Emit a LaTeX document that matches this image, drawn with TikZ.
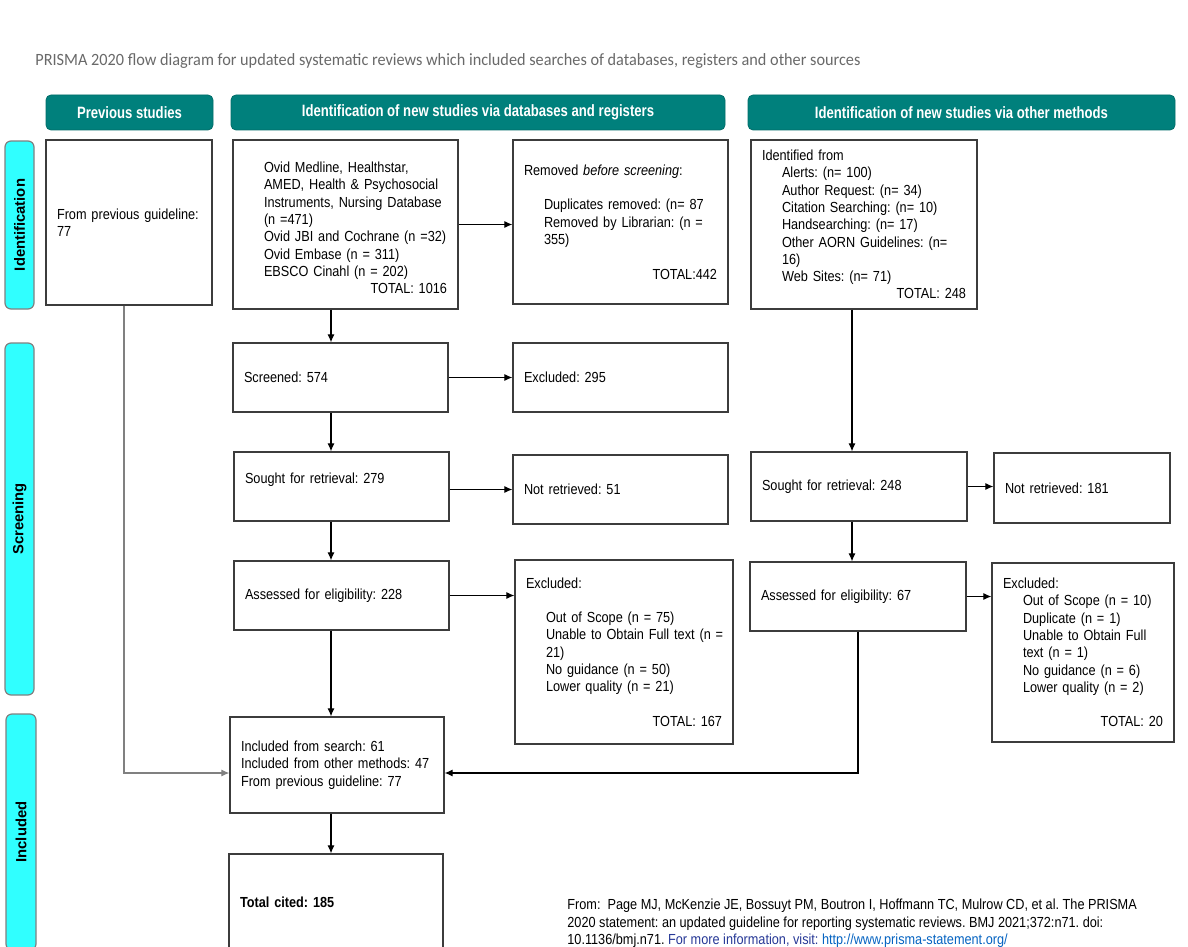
\documentclass[tikz,border=0pt]{standalone}
\usepackage{fontspec}
\setmainfont{Liberation Sans}[FakeStretch=0.87]
\newfontfamily\headfont{Liberation Sans}[FakeStretch=0.8]
\newfontfamily\barfont{Liberation Sans}
\newfontfamily\titlefont{Carlito}[FakeStretch=0.945]
\usetikzlibrary{arrows.meta}
\frenchspacing

\definecolor{headteal}{RGB}{0,128,124}
\definecolor{barcyan}{RGB}{48,255,255}
\definecolor{boxline}{RGB}{60,60,60}
\definecolor{titlegray}{RGB}{105,105,105}
\definecolor{linkblue}{RGB}{5,99,193}
\definecolor{infoblue}{RGB}{38,56,150}

% indent of the sub-items inside a box
\newcommand{\ind}{\hspace*{10pt}}
% a right aligned total line
\newcommand{\totalline}[1]{\mbox{}\hfill #1}

\begin{document}
\begin{tikzpicture}[
  x=0.5pt, y=-0.5pt,
  every node/.style={inner sep=0pt},
  box/.style={draw=boxline, line width=0.65pt, fill=white, inner xsep=5.5pt,
    align=left, font=\fontsize{7.3}{8.65}\selectfont},
  head/.style={fill=headteal, draw=headteal!85!black, rounded corners=2.5pt,
    text=white, font=\headfont\bfseries\fontsize{8.2}{9}\selectfont},
  phase/.style={fill=barcyan, draw=gray, line width=0.6pt, rounded corners=3pt,
    rotate=90, font=\barfont\bfseries\fontsize{7.4}{8}\selectfont},
  arrow/.style={draw, line width=0.6pt, -{Latex[length=4pt,width=3.6pt]}}]

  \path[use as bounding box, clip] (0,0) rectangle (1188,947);

  % title
  \node[anchor=west, text=titlegray, font=\titlefont\fontsize{8.6}{10}\selectfont]
    (title) at (35,61)
    {PRISMA 2020 flow diagram for updated systematic reviews which included searches of databases, registers and other sources};

  % column heads
  \node[head, minimum width=83.5pt, minimum height=17.5pt] (hprev) at (129.5,112.5) {Previous studies};
  \node[head, minimum width=247pt, minimum height=17.5pt] (hdb) at (478,112.5)
    {Identification of new studies via databases and registers};
  \node[head, minimum width=213.5pt, minimum height=17.5pt] (hother) at (961.5,112.5)
    {Identification of new studies via other methods};

  % phase bars
  \node[phase, minimum width=84pt, minimum height=14.5pt] (pident) at (19.5,225) {Identification};
  \node[phase, minimum width=176pt, minimum height=14.5pt] (pscreen) at (19.5,519) {Screening};
  \node[phase, minimum width=118pt, minimum height=15pt] (pincl) at (21,832) {Included};

  % identification
  \node[box, text width=72pt, minimum height=82.5pt] (prev) at (129,222.5)
    {From previous guideline:\\ 77};
  \node[box, text width=101.5pt, minimum height=84.5pt] (db) at (345.5,224.5)
    {\mbox{}\\
     \ind Ovid Medline, Healthstar,\\
     \ind AMED, Health \& Psychosocial\\
     \ind Instruments, Nursing Database\\
     \ind (n =471)\\
     \ind Ovid JBI and Cochrane (n =32)\\
     \ind Ovid Embase (n = 311)\\
     \ind EBSCO Cinahl (n = 202)\\
     \totalline{TOTAL: 1016}};
  \node[box, text width=96.5pt, minimum height=82pt] (removed) at (620.5,222)
    {Removed \textit{before screening}:\\[8.65pt]
     \ind Duplicates removed: (n= 87\\
     \ind Removed by Librarian: (n =\\
     \ind 355)\\[8.65pt]
     \totalline{TOTAL:442}};
  \node[box, text width=102pt, minimum height=84.5pt] (other) at (864,224.5)
    {Identified from\\
     \ind Alerts: (n= 100)\\
     \ind Author Request: (n= 34)\\
     \ind Citation Searching: (n= 10)\\
     \ind Handsearching: (n= 17)\\
     \ind Other AORN Guidelines: (n=\\
     \ind 16)\\
     \ind Web Sites: (n= 71)\\
     \totalline{TOTAL: 248}};

  % screening, databases and registers
  \node[box, text width=96.5pt, minimum height=34.5pt] (screened) at (340.5,377.5) {Screened: 574};
  \node[box, text width=96.5pt, minimum height=34.5pt] (excl295) at (620.5,377.5) {Excluded: 295};
  \node[box, text width=96.5pt, minimum height=34.5pt] (sought279) at (341.5,486.5)
    {Sought for retrieval: 279\\ \mbox{}};
  \node[box, text width=96.5pt, minimum height=34.5pt] (notret51) at (620.5,489.5) {Not retrieved: 51};
  \node[box, text width=96.5pt, minimum height=34.5pt] (assessed228) at (341.5,595.5)
    {Assessed for eligibility: 228};
  \node[box, text width=98pt, minimum height=92pt] (excl167) at (624,652)
    {Excluded:\\[8.65pt]
     \ind Out of Scope (n = 75)\\
     \ind \mbox{Unable to Obtain Full text (n =}\\
     \ind 21)\\
     \ind No guidance (n = 50)\\
     \ind Lower quality (n = 21)\\[8.65pt]
     \totalline{TOTAL: 167}};

  % screening, other methods
  \node[box, text width=97pt, minimum height=34.5pt] (sought248) at (859,486.5) {Sought for retrieval: 248};
  \node[box, text width=77pt, minimum height=35pt] (notret181) at (1082,488) {Not retrieved: 181};
  \node[box, text width=97pt, minimum height=34.5pt] (assessed67) at (858,596.5)
    {Assessed for eligibility: 67};
  \node[box, text width=80pt, minimum height=89.5pt] (excl20) at (1083,652.5)
    {Excluded:\\
     \ind Out of Scope (n = 10)\\
     \ind Duplicate (n = 1)\\
     \ind Unable to Obtain Full\\
     \ind text (n = 1)\\
     \ind No guidance (n = 6)\\
     \ind Lower quality (n = 2)\\[8.65pt]
     \totalline{TOTAL: 20}};

  % included
  \node[box, text width=96pt, minimum height=48pt] (incl) at (337,765)
    {Included from search: 61\\
     Included from other methods: 47\\
     From previous guideline: 77};
  \node[box, text width=96pt, minimum height=48pt] (total) at (336,902)
    {\textbf{Total cited: 185}};

  % source note
  \node[anchor=north west, align=left, font=\fontsize{7.3}{8.65}\selectfont] (source) at (567,899)
    {From:\ \ Page MJ, McKenzie JE, Bossuyt PM, Boutron I, Hoffmann TC, Mulrow CD, et al. The PRISMA\\
     2020 statement: an updated guideline for reporting systematic reviews. BMJ 2021;372:n71. doi:\\
     10.1136/bmj.n71. \textcolor{infoblue}{For more information, visit:}
     \textcolor{linkblue}{\underline{http://www.prisma-statement.org/}}};

  % columns of the down arrows, row of the joining arrows
  \coordinate (spine) at (331,0);
  \coordinate (spineb) at (852,0);
  \coordinate (joinrow) at (0,773);

  % arrows
  \draw[arrow] (db.south -| spine) -- (screened.north -| spine);
  \draw[arrow] (screened.south -| spine) -- (sought279.north -| spine);
  \draw[arrow] (sought279.south -| spine) -- (assessed228.north -| spine);
  \draw[arrow] (assessed228.south -| spine) -- (incl.north -| spine);
  \draw[arrow] (incl.south -| spine) -- (total.north -| spine);
  \draw[arrow] (db.east) -- (db.east -| removed.west);
  \draw[arrow] (screened.east) -- (screened.east -| excl295.west);
  \draw[arrow] (notret51.west -| sought279.east) -- (notret51.west);
  \draw[arrow] (assessed228.east) -- (assessed228.east -| excl167.west);
  \draw[arrow] (other.south -| spineb) -- (sought248.north -| spineb);
  \draw[arrow] (sought248.south -| spineb) -- (assessed67.north -| spineb);
  \draw[arrow] (sought248.east) -- (sought248.east -| notret181.west);
  \draw[arrow] (assessed67.east) -- (assessed67.east -| excl20.west);
  \draw[arrow] (assessed67.south) |- (incl.east |- joinrow);
  \draw[arrow, draw=gray] ([xshift=-2.5pt]prev.south) |- (incl.west |- joinrow);
\end{tikzpicture}
\end{document}
